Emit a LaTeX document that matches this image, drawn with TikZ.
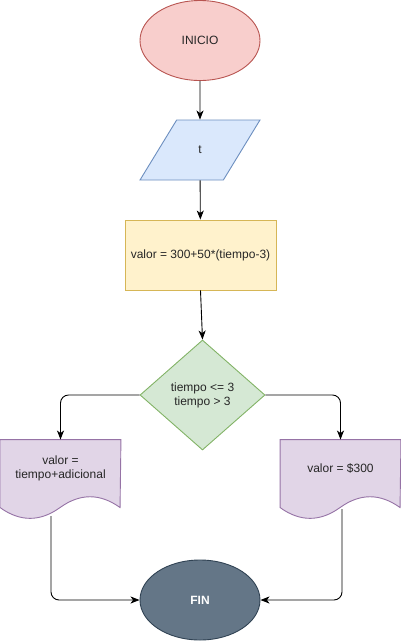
\documentclass[tikz,border=0pt]{standalone}
\usepackage{fontspec}
\setmainfont{Liberation Sans}
\usetikzlibrary{shapes.geometric,arrows.meta,calc}
\definecolor{redF}{HTML}{F8CECC}\definecolor{redD}{HTML}{B85450}
\definecolor{bluF}{HTML}{DAE8FC}\definecolor{bluD}{HTML}{6C8EBF}
\definecolor{yelF}{HTML}{FFF2CC}\definecolor{yelD}{HTML}{D6B656}
\definecolor{grnF}{HTML}{D5E8D4}\definecolor{grnD}{HTML}{82B366}
\definecolor{purF}{HTML}{E1D5E7}\definecolor{purD}{HTML}{9673A6}
\definecolor{slaF}{HTML}{647687}\definecolor{slaD}{HTML}{314354}
\newcommand{\docshape}[1]{%
  \path[docbox] (#1.north west) -- (#1.north east) -- ($(#1.north west)+(120,68)$)
    .. controls ($(#1.north west)+(100,53.6)$) and ($(#1.north west)+(80,53.6)$) .. ($(#1.north west)+(60,68)$)
    .. controls ($(#1.north west)+(40,82.4)$) and ($(#1.north west)+(20,82.4)$) .. ($(#1.north west)+(0,68)$) -- cycle;}
\begin{document}
\begin{tikzpicture}[x=1pt,y=-1pt,
  every node/.style={font=\fontsize{12}{14}\selectfont, text=black!85, align=center},
  base/.style={line width=0.9pt, inner sep=0pt},
  startend/.style={base, ellipse, minimum width=120pt, minimum height=80pt, draw=redD, fill=redF},
  iobox/.style={base, trapezium, trapezium left angle=71.57, trapezium right angle=108.43, trapezium stretches=true, minimum width=120pt, minimum height=60pt, draw=bluD, fill=bluF},
  procbox/.style={base, rectangle, minimum width=151pt, minimum height=70pt, draw=yelD, fill=yelF},
  decbox/.style={base, diamond, minimum width=125pt, minimum height=110pt, aspect=1.136, draw=grnD, fill=grnF},
  docframe/.style={base, rectangle, minimum width=120pt, minimum height=80pt},
  docbox/.style={line width=0.9pt, draw=purD, fill=purF},
  finbox/.style={base, ellipse, minimum width=120pt, minimum height=80pt, draw=slaD, fill=slaF, text=white, font=\fontsize{12}{14}\selectfont\bfseries},
  conn/.style={line width=0.9pt, draw=black, -{Stealth[length=9pt,width=7pt,inset=2.5pt]}, rounded corners=8pt}
]
\useasboundingbox (0,0) rectangle (401,641);
\node[startend] (ini) at (200,40.5) {INICIO};
\node[iobox] (t) at (200,150) {t};
\node[procbox] (proc) at (200.5,255) {valor = 300+50*(tiempo-3)};
\node[decbox] (dec) at (202.5,395) {tiempo <= 3\\tiempo > 3};
\node[docframe] (docL) at (60.5,480) {};
\node[docframe] (docR) at (340.5,480) {};
\docshape{docL}
\docshape{docR}
\node (docLt) at (60.5,468) {valor =\\tiempo+adicional};
\node (docRt) at (340.5,468) {valor = \$300};
\node[finbox] (fin) at (200,600) {FIN};
\coordinate (lout) at (51,516);
\coordinate (rout) at (342,509);
\draw[conn] (ini) -- (t);
\draw[conn] (t) -- (proc);
\draw[conn] (proc.south) -- (dec.north);
\draw[conn] (dec.west) -| (docL.north);
\draw[conn] (dec.east) -| (docR.north);
\draw[conn] (lout) |- (fin.west);
\draw[conn] (rout) |- (fin.east);
\end{tikzpicture}
\end{document}
